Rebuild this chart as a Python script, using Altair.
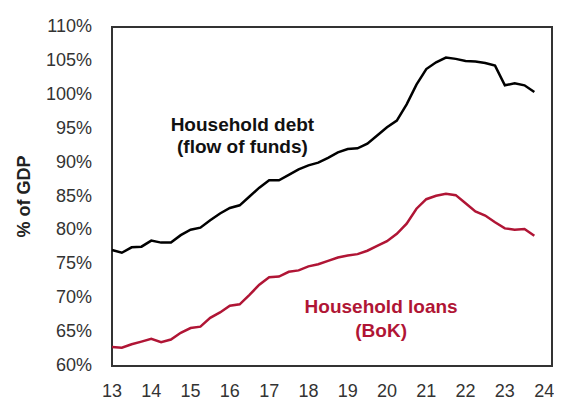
import altair as alt
import pandas as pd

# Quarterly positions (year-2000, quarter start)
quarters = [13.0, 13.25, 13.5, 13.75, 14.0, 14.25, 14.5, 14.75,
            15.0, 15.25, 15.5, 15.75, 16.0, 16.25, 16.5, 16.75,
            17.0, 17.25, 17.5, 17.75, 18.0, 18.25, 18.5, 18.75,
            19.0, 19.25, 19.5, 19.75, 20.0, 20.25, 20.5, 20.75,
            21.0, 21.25, 21.5, 21.75, 22.0, 22.25, 22.5, 22.75,
            23.0, 23.25, 23.5, 23.75]

household_debt = [77.1, 76.7, 77.5, 77.6, 78.5, 78.2, 78.2, 79.3,
                  80.1, 80.4, 81.5, 82.5, 83.3, 83.7, 85.0, 86.3,
                  87.4, 87.4, 88.2, 89.0, 89.6, 90.0, 90.7, 91.5,
                  92.0, 92.1, 92.8, 94.0, 95.2, 96.2, 98.6, 101.5,
                  103.8, 104.8, 105.5, 105.3, 105.0, 104.9, 104.7, 104.3,
                  101.4, 101.7, 101.4, 100.4]

household_loans = [62.8, 62.7, 63.2, 63.6, 64.0, 63.5, 63.9, 64.9,
                   65.6, 65.8, 67.1, 67.9, 68.9, 69.1, 70.5, 72.0,
                   73.1, 73.2, 73.9, 74.1, 74.7, 75.0, 75.5, 76.0,
                   76.3, 76.5, 77.0, 77.7, 78.4, 79.5, 81.0, 83.2,
                   84.6, 85.1, 85.4, 85.2, 84.0, 82.8, 82.2, 81.2,
                   80.3, 80.1, 80.2, 79.2]

x_ticks = [13, 14, 15, 16, 17, 18, 19, 20, 21, 22, 23, 24]
x_tick_labels = ["13", "14", "15", "16", "17", "18", "19", "20", "21", "22", "23", "24"]
y_ticks = [60, 65, 70, 75, 80, 85, 90, 95, 100, 105, 110]
y_tick_labels = ["60%", "65%", "70%", "75%", "80%", "85%", "90%", "95%",
                 "100%", "105%", "110%"]

series_names = ["Household debt (flow of funds)", "Household loans (BoK)"]
series_colors = ["#000000", "#B01535"]

debt_label = ["Household debt", "(flow of funds)"]
loans_label = ["Household loans", "(BoK)"]

FONT = "Liberation Sans"
X_MIN, X_MAX = 13.0, 24.2
Y_MIN, Y_MAX = 60.0, 110.0

df = pd.DataFrame({
    "t": quarters * 2,
    "v": household_debt + household_loans,
    "series": [series_names[0]] * len(quarters) + [series_names[1]] * len(quarters),
})
xt = pd.DataFrame({"val": x_ticks, "lab": x_tick_labels})
yt = pd.DataFrame({"val": y_ticks, "lab": y_tick_labels})
# plot frame edges: left, bottom, top, right
frame = pd.DataFrame({
    "x1": [X_MIN, X_MIN, X_MIN, X_MAX],
    "x2": [X_MIN, X_MAX, X_MAX, X_MAX],
    "y1": [Y_MIN, Y_MIN, Y_MAX, Y_MIN],
    "y2": [Y_MAX, Y_MIN, Y_MAX, Y_MAX],
})

x_scale = alt.Scale(domain=[X_MIN, X_MAX], nice=False, zero=False)
y_scale = alt.Scale(domain=[Y_MIN, Y_MAX], nice=False, zero=False)

x_axis = alt.Axis(title=None, labels=False, grid=False, ticks=False, domain=False)
y_axis = alt.Axis(title="% of GDP", labels=False, grid=False, ticks=False, domain=False,
                  titleFont=FONT, titleFontSize=18, titleFontWeight="bold",
                  titleColor="#222222", titleAngle=-90, titleX=-88, titleY=169,
                  titleAlign="center", titleBaseline="middle")

lines = alt.Chart(df).mark_line(strokeWidth=2.5).encode(
    x=alt.X("t:Q", scale=x_scale, axis=x_axis),
    y=alt.Y("v:Q", scale=y_scale, axis=y_axis),
    color=alt.Color("series:N", scale=alt.Scale(domain=series_names, range=series_colors),
                    legend=None),
    detail="series:N",
)

frame_rules = alt.Chart(frame).mark_rule(color="#333333", strokeWidth=2).encode(
    x=alt.X("x1:Q", scale=x_scale, axis=x_axis), x2="x2:Q",
    y=alt.Y("y1:Q", scale=y_scale, axis=y_axis), y2="y2:Q",
)

x_labels = alt.Chart(xt).mark_text(
    font=FONT, fontSize=18, color="#333333", align="center", baseline="middle", dy=26,
).encode(x=alt.X("val:Q", scale=x_scale, axis=x_axis),
         y=alt.datum(Y_MIN, scale=y_scale), text="lab:N")

y_labels = alt.Chart(yt).mark_text(
    font=FONT, fontSize=18, color="#333333", align="right", baseline="middle", dx=-20,
).encode(y=alt.Y("val:Q", scale=y_scale, axis=y_axis),
         x=alt.datum(X_MIN, scale=x_scale), text="lab:N")

debt_text = alt.Chart().mark_text(
    text=debt_label, font=FONT, fontSize=19, fontWeight="bold", color="#111111",
    align="center", baseline="middle", lineHeight=22,
).encode(x=alt.datum(16.32, scale=x_scale), y=alt.datum(95.6, scale=y_scale))

loans_text = alt.Chart().mark_text(
    text=loans_label, font=FONT, fontSize=19, fontWeight="bold", color="#B01535",
    align="center", baseline="middle", lineHeight=24,
).encode(x=alt.datum(19.85, scale=x_scale), y=alt.datum(68.7, scale=y_scale))

chart = alt.layer(
    frame_rules, lines, x_labels, y_labels, debt_text, loans_text,
).properties(
    width=440, height=339,
    background="white",
    autosize=alt.AutoSizeParams(type="none"),
    padding={"left": 104, "top": 19, "right": 2, "bottom": 36},
).configure_view(stroke="#333333", strokeWidth=2)

chart.save("out.html", embed_options={"renderer": "svg", "actions": False})
